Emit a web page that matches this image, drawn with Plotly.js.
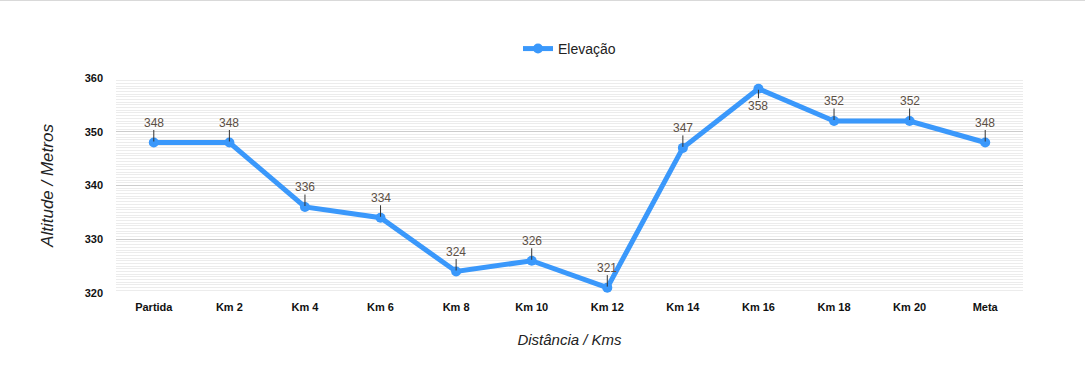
<!DOCTYPE html>
<html>
<head>
<meta charset="utf-8">
<script src="https://cdn.plot.ly/plotly-3.0.1.min.js"></script>
<style>
html,body{margin:0;padding:0;background:#fff;}
#topline{position:absolute;left:0;top:0;width:1085px;height:1px;background:#d9d9d9;z-index:10;}
#chart{width:1085px;height:369px;}
</style>
</head>
<body>
<div id="topline"></div>
<div id="chart"></div>
<script>
const categories = ["Partida","Km 2","Km 4","Km 6","Km 8","Km 10","Km 12","Km 14","Km 16","Km 18","Km 20","Meta"];
const elevation = [348,348,336,334,324,326,321,347,358,352,352,348];
const seriesName = "Elevação";
const labelBelow = [false,false,false,false,false,false,false,false,true,false,false,false];

const FONT = "Arial, 'Liberation Sans', sans-serif";
const BLUE = "#3a98fb";

const annotations = categories.map((c,i)=>({
  x: c, y: elevation[i], xref:'x', yref:'y',
  text: String(elevation[i]),
  showarrow: true, arrowhead: 0, arrowwidth: 1, arrowcolor: '#333',
  ax: 0, ay: labelBelow[i] ? 17 : -20, standoff: 1, borderpad: 0,
  font: {family: FONT, size: 12, color: '#5c5045'}
}));

const trace = {
  x: categories, y: elevation, name: seriesName,
  type: 'scatter', mode: 'lines+markers',
  line: {color: BLUE, width: 5},
  marker: {color: BLUE, size: 10}
};

const layout = {
  width: 1085, height: 369,
  margin: {l:116, r:62, t:78, b:76},
  paper_bgcolor:'#fff', plot_bgcolor:'#fff',
  font: {family: FONT, color:'#000'},
  showlegend: true,
  legend: {orientation:'h', x:0.5, xanchor:'center', y:1.135, yanchor:'middle',
           font:{family:FONT, size:14, color:'#222'}},
  xaxis: {
    type:'category', range:[-0.5, 11.5], showgrid:false, zeroline:false,
    showline:false, ticks:'', ticklabelstandoff: 6,
    tickfont:{family:FONT, size:11, color:'#111', weight:'bold'},
    title:{text:'Distância / Kms', standoff:22, font:{family:FONT, size:15, style:'italic', color:'#222'}}
  },
  yaxis: {
    range:[320,360], dtick:10, showgrid:true, gridcolor:'#cccccc', gridwidth:1,
    zeroline:false, showline:false, ticks:'', ticklabelstandoff: 12,
    minor:{dtick:0.5, showgrid:true, gridcolor:'#ececec', gridwidth:1},
    tickfont:{family:FONT, size:11, color:'#111', weight:'bold'},
    title:{text:'Altitude / Metros', standoff:26, font:{family:FONT, size:17, style:'italic', color:'#222'}}
  },
  annotations: annotations
};

Plotly.newPlot('chart', [trace], layout, {displayModeBar:false, responsive:false});
</script>
</body>
</html>
